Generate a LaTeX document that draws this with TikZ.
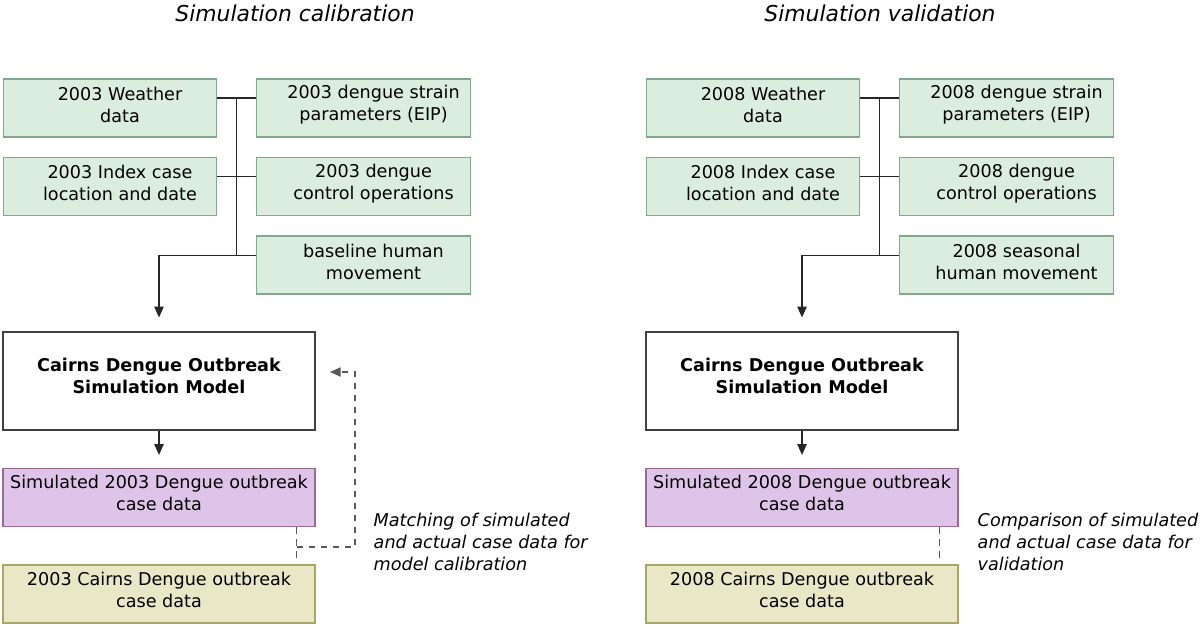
\documentclass[tikz,border=0pt]{standalone}
\usepackage{fontspec}
\setmainfont{DejaVu Sans}
\usetikzlibrary{positioning,calc,arrows.meta}

\definecolor{inputfill}{HTML}{DBEDDF}
\definecolor{inputdraw}{HTML}{7FA98A}
\definecolor{simfill}{HTML}{DFC4EA}
\definecolor{simdraw}{HTML}{9A6A92}
\definecolor{obsfill}{HTML}{E9E8C6}
\definecolor{obsdraw}{HTML}{A8A864}

% trailing short line: lifts the text a little above the box centre
\newcommand{\lift}{\\[-10pt]}

\tikzset{
  inbox/.style={draw=inputdraw, fill=inputfill, line width=0.9pt, minimum width=160pt,
    minimum height=43.5pt, inner sep=0pt,
    label={[align=center, xshift=7.5pt, yshift=2.5pt]center:#1}},
  modelbox/.style={draw=black!75, fill=white, line width=0.9pt, minimum width=234pt,
    minimum height=73.5pt, align=center, font=\bfseries\fontsize{13.2}{16.5}\selectfont},
  simbox/.style={draw=simdraw, fill=simfill, line width=0.9pt, minimum width=234pt,
    minimum height=44pt, align=center, inner sep=0pt},
  obsbox/.style={draw=obsdraw, fill=obsfill, line width=0.9pt, minimum width=234pt,
    minimum height=43.5pt, align=center, inner sep=0pt},
  joinline/.style={draw=black!85, line width=0.8pt},
  flowarrow/.style={joinline, -{Triangle[length=8pt,width=7pt]}},
  matchline/.style={draw=black!65, line width=0.8pt, dash pattern=on 5pt off 4pt},
  note/.style={align=left, anchor=west, font=\itshape\fontsize{13.2}{16.5}\selectfont},
  paneltitle/.style={font=\itshape\fontsize{16.4}{20}\selectfont}
}

\begin{document}
\begin{tikzpicture}[x=0.75pt, y=-0.75pt, font=\fontsize{13.2}{16.5}\selectfont]
  \useasboundingbox (0,0) rectangle (1200,626);

  % calibration panel
  \node[paneltitle] (title03) at (295,13) {Simulation calibration};
  \node[inbox={2003 Weather\\data}] (w03) at (110,108) {};
  \node[inbox={2003 dengue strain\\parameters (EIP)}, right=29.25pt of w03] (s03) {};
  \node[inbox={2003 Index case\\location and date}, below=14.5pt of w03] (i03) {};
  \node[inbox={2003 dengue\\control operations}, below=14.5pt of s03] (c03) {};
  \node[inbox={baseline human\\movement}, below=14.5pt of c03] (h03) {};
  \node[modelbox] (m03) at (159,381) {Cairns Dengue Outbreak\\Simulation Model\\[-9pt]};
  \node[simbox] (sim03) at (159,497.5) {Simulated 2003 Dengue outbreak\\case data\lift};
  \node[obsbox] (obs03) at (159,594) {2003 Cairns Dengue outbreak\\case data\lift};
  \node[note] (t03) at (369,542) {Matching of simulated\\and actual case data for\\model calibration};

  \coordinate (we03) at ([yshift=7.5pt]w03.east);
  \coordinate (sw03) at ([yshift=7.5pt]s03.west);
  \coordinate (ie03) at ([yshift=7.5pt]i03.east);
  \coordinate (cw03) at ([yshift=7.5pt]c03.west);
  \coordinate (hw03) at ([yshift=7.5pt]h03.west);
  \coordinate (j03) at ($(we03)!0.5!(sw03)$);
  \draw[joinline] (we03) -- (sw03);
  \draw[joinline] (ie03) -- (cw03);
  \draw[joinline] (j03) -- (j03 |- hw03) -- (hw03);
  \draw[flowarrow, shorten >=10.5pt] (hw03) -| (m03.north);
  \draw[flowarrow, shorten >=9.5pt] (m03.south) -- (sim03.north);

  \coordinate (d03) at ($(sim03.south east)+(-19,0)$);
  \coordinate (k03) at (355,547);
  \coordinate (a03) at (330,372);
  \draw[matchline, shorten >=4pt] (d03) -- (d03 |- obs03.north);
  \draw[matchline, -{Triangle[length=8pt,width=7pt]}] (d03 |- k03) -- (k03) |- (a03);

  % validation panel
  \node[paneltitle] (title08) at (880,13) {Simulation validation};
  \node[inbox={2008 Weather\\data}] (w08) at (753,108) {};
  \node[inbox={2008 dengue strain\\parameters (EIP)}, right=29.25pt of w08] (s08) {};
  \node[inbox={2008 Index case\\location and date}, below=14.5pt of w08] (i08) {};
  \node[inbox={2008 dengue\\control operations}, below=14.5pt of s08] (c08) {};
  \node[inbox={2008 seasonal\\human movement}, below=14.5pt of c08] (h08) {};
  \node[modelbox] (m08) at (802,381) {Cairns Dengue Outbreak\\Simulation Model\\[-9pt]};
  \node[simbox] (sim08) at (802,497.5) {Simulated 2008 Dengue outbreak\\case data\lift};
  \node[obsbox] (obs08) at (802,594) {2008 Cairns Dengue outbreak\\case data\lift};
  \node[note] (t08) at (973,542) {Comparison of simulated\\and actual case data for\\validation};

  \coordinate (we08) at ([yshift=7.5pt]w08.east);
  \coordinate (sw08) at ([yshift=7.5pt]s08.west);
  \coordinate (ie08) at ([yshift=7.5pt]i08.east);
  \coordinate (cw08) at ([yshift=7.5pt]c08.west);
  \coordinate (hw08) at ([yshift=7.5pt]h08.west);
  \coordinate (j08) at ($(we08)!0.5!(sw08)$);
  \draw[joinline] (we08) -- (sw08);
  \draw[joinline] (ie08) -- (cw08);
  \draw[joinline] (j08) -- (j08 |- hw08) -- (hw08);
  \draw[flowarrow, shorten >=10.5pt] (hw08) -| (m08.north);
  \draw[flowarrow, shorten >=9.5pt] (m08.south) -- (sim08.north);

  \coordinate (d08) at ($(sim08.south east)+(-19,0)$);
  \draw[matchline, shorten >=4pt] (d08) -- (d08 |- obs08.north);
\end{tikzpicture}
\end{document}
